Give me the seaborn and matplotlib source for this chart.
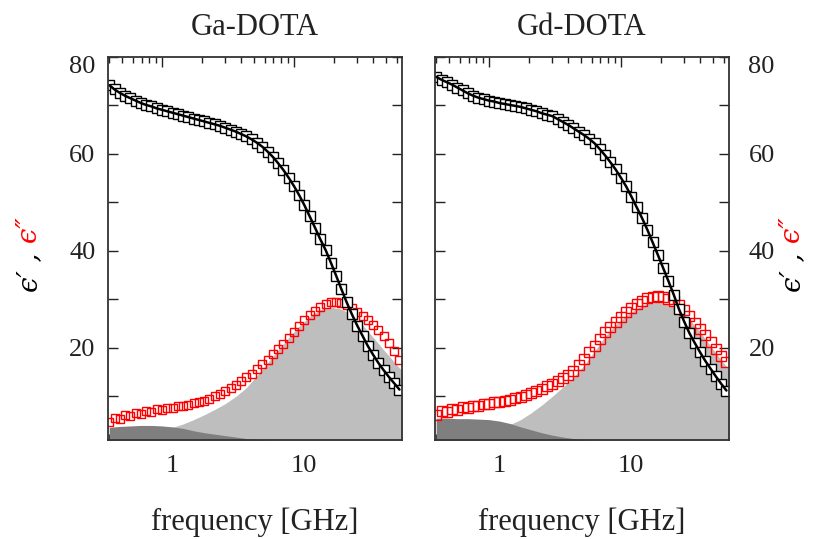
import numpy as np
import pandas as pd
import matplotlib
matplotlib.use("Agg")
import matplotlib.pyplot as plt
import matplotlib.transforms as mtransforms
import seaborn as sns
from matplotlib.ticker import FixedLocator, LogLocator, NullFormatter, FuncFormatter

# frequencies of the measured points [GHz]
freq = [0.398, 0.437, 0.479, 0.525, 0.575, 0.631, 0.692, 0.759, 0.832, 0.912,
        1.000, 1.096, 1.202, 1.318, 1.445, 1.585, 1.738, 1.905, 2.089, 2.291,
        2.512, 2.754, 3.020, 3.311, 3.631, 3.981, 4.365, 4.786, 5.248, 5.754,
        6.310, 6.918, 7.586, 8.318, 9.120, 10.00, 10.96, 12.02, 13.18, 14.45,
        15.85, 17.38, 19.05, 20.89, 22.91, 25.12, 27.54, 30.20, 33.11, 36.31,
        39.81, 43.65, 47.86, 52.48, 57.54, 63.10]

# Ga-DOTA
ga_eps1 = [74.2, 73.3, 72.6, 72.0, 71.5, 71.0, 70.5, 70.1, 69.8, 69.4,
           69.1, 68.8, 68.5, 68.2, 67.9, 67.6, 67.3, 67.0, 66.7, 66.4,
           66.1, 65.8, 65.4, 65.0, 64.6, 64.1, 63.6, 63.0, 62.3, 61.5,
           60.5, 59.4, 58.1, 56.7, 55.1, 53.4, 51.5, 49.4, 47.1, 44.8,
           42.4, 40.2, 37.6, 34.9, 32.1, 29.4, 26.9, 24.6, 22.5, 20.4,
           18.6, 16.9, 15.4, 14.0, 12.7, 11.4]
ga_eps2 = [4.8, 5.6, 5.3, 6.1, 5.9, 6.6, 6.3, 7.0, 6.8, 7.3,
           7.2, 7.6, 7.6, 8.0, 8.1, 8.3, 8.6, 8.8, 9.1, 9.5,
           10.0, 10.5, 11.1, 11.7, 12.4, 13.1, 13.9, 14.7, 15.6, 16.6,
           17.6, 18.7, 19.8, 20.9, 22.1, 23.3, 24.6, 25.7, 26.7, 27.6,
           28.4, 29.0, 29.4, 29.5, 29.3, 28.9, 28.3, 27.5, 26.6, 25.8,
           24.7, 23.6, 22.5, 21.0, 19.3, 17.5]

# Gd-DOTA
gd_eps1 = [75.9, 75.3, 74.8, 74.3, 73.7, 73.1, 72.5, 72.0, 71.6, 71.3,
           71.0, 70.8, 70.5, 70.3, 70.1, 69.9, 69.7, 69.4, 69.1, 68.8,
           68.4, 68.1, 67.8, 67.2, 66.6, 66.0, 65.3, 64.6, 63.9, 63.1,
           62.2, 61.0, 59.7, 58.3, 56.8, 55.1, 53.3, 51.2, 49.0, 46.8,
           44.4, 41.8, 39.2, 36.5, 33.8, 31.0, 28.0, 25.4, 23.0, 21.0,
           19.1, 17.3, 15.7, 14.1, 12.6, 11.2]
gd_eps2 = [6.2, 6.9, 6.7, 7.4, 7.2, 7.8, 7.6, 8.1, 8.1, 8.5,
           8.4, 8.8, 8.9, 9.1, 9.3, 9.6, 9.9, 10.2, 10.6, 11.1,
           11.6, 12.1, 12.5, 13.1, 13.8, 14.4, 15.2, 16.4, 17.7, 19.1,
           20.4, 21.8, 23.2, 24.3, 25.4, 26.3, 27.3, 28.2, 29.0, 29.7,
           30.2, 30.5, 30.6, 30.5, 30.1, 29.6, 28.9, 27.8, 26.6, 25.2,
           23.8, 22.6, 21.2, 19.8, 18.4, 17.0]

# fitted relaxation contributions (shaded areas)
fit_freq = [0.398, 0.479, 0.575, 0.692, 0.832, 1.000, 1.202, 1.445, 1.738, 2.089,
            2.512, 3.020, 3.631, 4.365, 5.248, 6.310, 7.586, 9.120, 10.96, 13.18,
            15.85, 19.05, 22.91, 27.54, 33.11, 39.81, 47.86, 57.54, 69.18]
ga_main = [1.2, 1.4, 1.7, 2.1, 2.5, 3.0, 3.6, 4.3, 5.2, 6.2,
           7.3, 8.5, 10.0, 11.8, 14.3, 16.9, 19.6, 22.1, 24.5, 26.5,
           27.9, 28.4, 28.0, 26.8, 24.7, 22.2, 19.6, 17.1, 14.6]
ga_slow = [3.6, 3.8, 3.9, 4.0, 4.0, 3.9, 3.7, 3.4, 2.9, 2.5,
           2.2, 1.9, 1.6, 1.3, 1.1, 0.9, 0.7, 0.5, 0.4, 0.3,
           0.25, 0.2, 0.15, 0.12, 0.1, 0.08, 0.06, 0.05, 0.04]
gd_main = [1.0, 1.2, 1.5, 1.8, 2.2, 2.7, 3.3, 4.2, 5.2, 6.6,
           8.2, 10.0, 11.9, 13.9, 16.4, 19.3, 22.4, 24.8, 26.7, 28.1,
           29.1, 29.4, 29.0, 27.9, 25.9, 23.3, 20.4, 17.5, 14.8]
gd_slow = [5.5, 5.5, 5.4, 5.4, 5.3, 5.2, 4.9, 4.4, 3.7, 3.1,
           2.5, 2.0, 1.6, 1.3, 1.0, 0.8, 0.6, 0.45, 0.35, 0.3,
           0.25, 0.2, 0.15, 0.12, 0.1, 0.08, 0.06, 0.05, 0.04]

sns.set_theme(style="ticks")
plt.rcParams["font.family"] = ["Liberation Serif", "DejaVu Serif"]

INK = "#222222"


def draw_panel(ax, eps1, eps2, main, slow, title, red_ms):
    ax.set_xscale("log")
    ax.fill_between(fit_freq, 0, main, color="#bebebe", lw=0, zorder=1)
    ax.fill_between(fit_freq, 0, slow, color="#7f7f7f", lw=0, zorder=1.1)
    sns.lineplot(x=freq, y=eps2, ax=ax, marker="s", linestyle="", color="red",
                 mfc="none", mec="red", ms=red_ms, mew=1.0, zorder=3)
    sns.lineplot(x=freq, y=eps1, ax=ax, marker="s", linestyle="", color="black",
                 mfc="white", mec="black", ms=6.5, mew=1.0, zorder=4)
    sns.lineplot(x=freq, y=eps1, ax=ax, color="black", lw=1.8, zorder=5)

    ax.set_xlim(0.39, 66)
    ax.set_ylim(1, 80)
    ax.xaxis.set_major_locator(FixedLocator([1, 10]))
    ax.xaxis.set_major_formatter(FuncFormatter(lambda v, p: f"{v:g}"))
    ax.xaxis.set_minor_locator(LogLocator(base=10, subs=range(2, 10)))
    ax.xaxis.set_minor_formatter(NullFormatter())
    ax.set_yticks([10, 20, 30, 40, 50, 60, 70, 80])
    ax.set_yticklabels(["", "20", "", "40", "", "60", "", "80"])
    ax.tick_params(which="both", direction="in", top=True, right=True,
                   bottom=True, left=True, width=1, colors=INK,
                   labelcolor=INK, labelsize=19)
    ax.tick_params(which="major", length=7)
    ax.tick_params(which="minor", length=4)
    ax.tick_params(axis="x", pad=11)
    # tick numbers sit a little right of their ticks in the original
    shift = mtransforms.ScaledTranslation(0.10, 0, ax.figure.dpi_scale_trans)
    for lab in ax.get_xticklabels():
        lab.set_transform(lab.get_transform() + shift)
    for s in ax.spines.values():
        s.set_linewidth(1.3)
        s.set_color("#333333")
        s.set_zorder(6)
    ax.set_xlabel("frequency [GHz]", fontsize=22, color=INK)
    ax.xaxis.set_label_coords(0.5, -0.214)
    ax.xaxis.label.set_va("center")
    ax.set_ylabel("")
    ax.text(0.5, 1.076, title, transform=ax.transAxes, ha="center", va="center",
            fontsize=22, color=INK)


fig = plt.figure(figsize=(8.14, 5.39), dpi=100)
ax1 = fig.add_axes([0.1327, 0.1837, 0.3612, 0.7106])
ax2 = fig.add_axes([0.5344, 0.1837, 0.3612, 0.7106])

draw_panel(ax1, ga_eps1, ga_eps2, ga_main, ga_slow, "Ga-DOTA", 5.5)
ax1.set_axisbelow(True)
ax1.tick_params(axis="y", labelleft=True, labelright=False, pad=9)

draw_panel(ax2, gd_eps1, gd_eps2, gd_main, gd_slow, "Gd-DOTA", 6.5)
ax2.tick_params(axis="y", labelleft=False, labelright=True, pad=14)

# the top label "80" is set a bit lower than its tick
down = mtransforms.ScaledTranslation(0, -0.08, fig.dpi_scale_trans)
for ax in (ax1, ax2):
    ax.yaxis.get_major_ticks()[-1].label1.set_transform(
        ax.yaxis.get_major_ticks()[-1].label1.get_transform() + down)
    ax.yaxis.get_major_ticks()[-1].label2.set_transform(
        ax.yaxis.get_major_ticks()[-1].label2.get_transform() + down)

# y labels: eps' in black, eps'' in red
for xpos in (0.036, 0.974):
    fig.text(xpos, 0.532, "ϵ′ ,", rotation=90, ha="center", va="top",
             fontsize=20, style="italic", family=["DejaVu Serif"], color="black")
    fig.text(xpos, 0.532, " ϵ″", rotation=90, ha="center", va="bottom",
             fontsize=20, style="italic", family=["DejaVu Serif"], color="red")

fig.savefig("out.png", dpi=100)
